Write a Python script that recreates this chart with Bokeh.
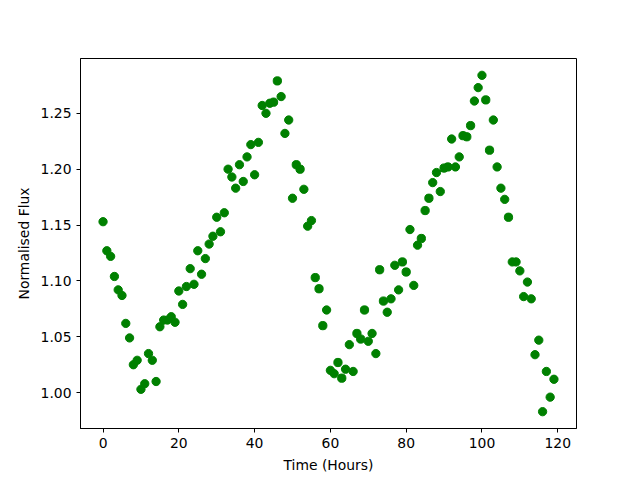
from bokeh.plotting import figure
from bokeh.models import FixedTicker, Range1d, NumeralTickFormatter
from bokeh.embed import file_html
from bokeh.resources import INLINE

# Time in hours
hours = list(range(120))

# Normalised flux values
flux = [
    1.153, 1.127, 1.122, 1.104, 1.092, 1.087, 1.062, 1.049, 1.025, 1.029,
    1.003, 1.008, 1.035, 1.029, 1.010, 1.059, 1.065, 1.065, 1.068, 1.063,
    1.091, 1.079, 1.095, 1.111, 1.097, 1.127, 1.106, 1.120, 1.133, 1.140,
    1.157, 1.144, 1.161, 1.200, 1.193, 1.183, 1.204, 1.189, 1.211, 1.222,
    1.195, 1.224, 1.257, 1.250, 1.259, 1.260, 1.279, 1.265, 1.232, 1.244,
    1.174, 1.204, 1.200, 1.182, 1.149, 1.154, 1.103, 1.093, 1.060, 1.074,
    1.020, 1.017, 1.027, 1.013, 1.021, 1.043, 1.019, 1.053, 1.048, 1.074,
    1.046, 1.053, 1.035, 1.110, 1.082, 1.072, 1.084, 1.114, 1.092, 1.117,
    1.108, 1.146, 1.096, 1.132, 1.138, 1.163, 1.174, 1.188, 1.197, 1.180,
    1.201, 1.202, 1.227, 1.202, 1.211, 1.230, 1.229, 1.239, 1.261, 1.273,
    1.284, 1.262, 1.217, 1.244, 1.202, 1.183, 1.173, 1.157, 1.117, 1.117,
    1.109, 1.086, 1.099, 1.084, 1.034, 1.047, 0.983, 1.019, 0.996, 1.012,
]

x_ticks = [0, 20, 40, 60, 80, 100, 120]
y_ticks = [1.00, 1.05, 1.10, 1.15, 1.20, 1.25]

xmin, xmax = min(hours), max(hours)
ymin, ymax = min(flux), max(flux)
xm = 0.05 * (xmax - xmin)
ym = 0.05 * (ymax - ymin)

p = figure(
    output_backend="svg",
    toolbar_location=None,
    frame_width=496,
    frame_height=370,
    min_border_left=80,
    min_border_right=64,
    min_border_top=58,
    min_border_bottom=52,
    x_range=Range1d(xmin - xm, xmax + xm),
    y_range=Range1d(ymin - ym, ymax + ym),
)

p.scatter(hours, flux, size=8.3, fill_color="#008000", line_color="#008000")

p.xgrid.visible = False
p.ygrid.visible = False
p.outline_line_color = "black"
p.outline_line_width = 1
p.outline_line_alpha = 1.0

p.xaxis.ticker = FixedTicker(ticks=x_ticks)
p.yaxis.ticker = FixedTicker(ticks=y_ticks)
p.yaxis.formatter = NumeralTickFormatter(format="0.00")

for ax in (p.xaxis, p.yaxis):
    ax.axis_line_color = "black"
    ax.major_tick_line_color = "black"
    ax.major_tick_out = 4
    ax.major_tick_in = 0
    ax.minor_tick_line_color = None
    ax.major_label_text_font = "DejaVu Sans"
    ax.major_label_text_font_size = "13.9px"
    ax.major_label_text_color = "black"
    ax.major_label_standoff = 5
    ax.axis_label_text_font = "DejaVu Sans"
    ax.axis_label_text_font_size = "13.9px"
    ax.axis_label_text_font_style = "normal"
    ax.axis_label_text_color = "black"
    ax.axis_label_standoff = 6

p.xaxis.axis_label = "Time (Hours)"
p.yaxis.axis_label = "Normalised Flux"

open("out.html", "w").write(file_html(p, INLINE))
